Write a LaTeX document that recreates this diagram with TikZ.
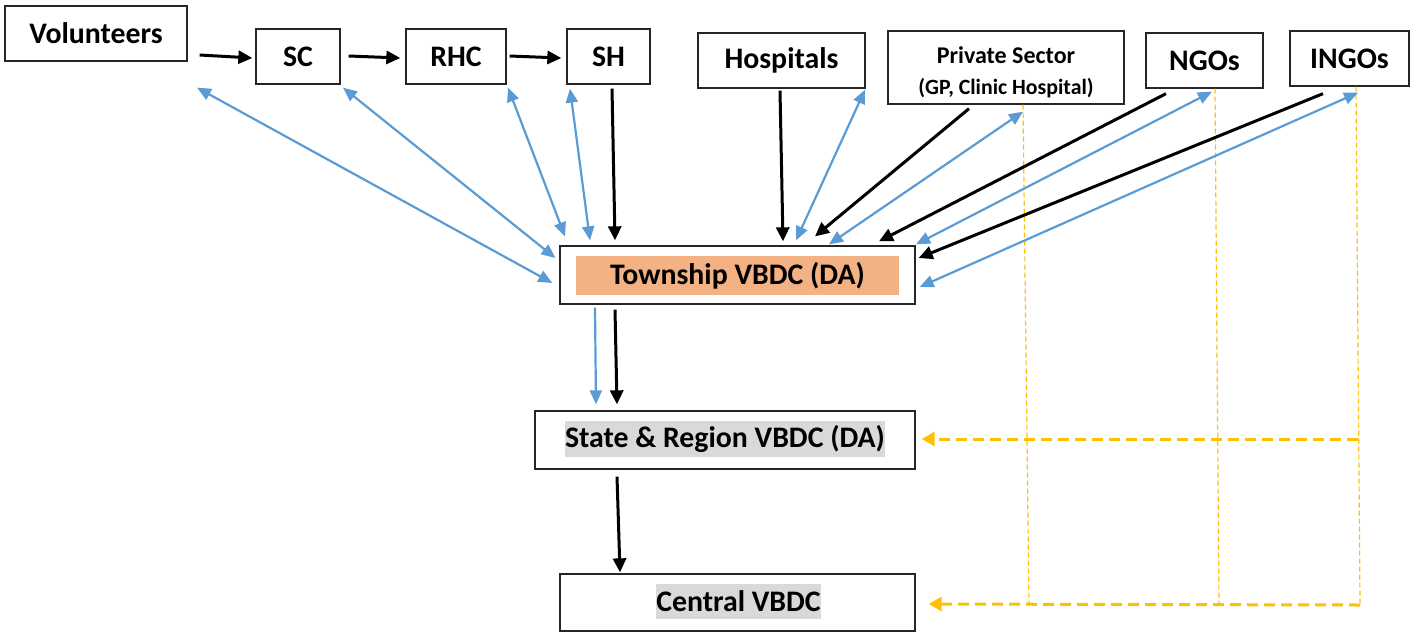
\documentclass[tikz,border=0pt]{standalone}
\usepackage{fontspec}
\setmainfont{Carlito}
\usetikzlibrary{arrows.meta,calc}
\definecolor{obblue}{HTML}{5B9BD5}
\definecolor{oborange}{HTML}{FFC000}
\definecolor{obsalmon}{HTML}{F4B183}
\definecolor{obgray}{HTML}{D9D9D9}
\begin{document}
\begin{tikzpicture}[x=1pt,y=-1pt,
  box/.style={draw=black!85,line width=1.3pt,fill=white,inner sep=0pt,font=\bfseries\fontsize{29.8}{32}\selectfont},
  lbl/.style={inner sep=0pt,font=\bfseries\fontsize{29.8}{32}\selectfont},
  blk/.style={draw=black,line width=3pt,-{Triangle[length=14pt,width=13pt]}},
  blu/.style={draw=obblue,line width=2.2pt,{Triangle[length=14pt,width=12pt]}-{Triangle[length=14pt,width=12pt]}},
  blus/.style={draw=obblue,line width=2.2pt,-{Triangle[length=14pt,width=12pt]}},
  thin/.style={draw=oborange,line width=1.2pt,dash pattern=on 5pt off 3pt},
  thick/.style={draw=oborange,line width=3pt,dash pattern=on 11pt off 6pt,-{Triangle[length=13pt,width=14pt]}}]
\useasboundingbox (0,0) rectangle (1413,632);

% top row
\node[box,minimum width=182pt,minimum height=55pt] (vol) at (96,33.5) {Volunteers};
\node[box,minimum width=84pt,minimum height=55pt] (sc) at (298,56.5) {SC};
\node[box,minimum width=100pt,minimum height=55pt] (rhc) at (456,56.5) {RHC};
\node[box,minimum width=83pt,minimum height=55pt] (sh) at (608.5,56.5) {SH};
\node[box,minimum width=167pt,minimum height=55pt] (hosp) at (781.5,60.5) {Hospitals};
\node[box,minimum width=236pt,minimum height=73pt] (priv) at (1006,67.5) {};
\node[lbl,align=center] (privl) at (1006,72)
  {{\fontsize{24}{26}\selectfont Private Sector}\\[-1pt]{\fontsize{21.8}{24}\selectfont (GP, Clinic Hospital)}};
\node[box,minimum width=117pt,minimum height=55pt] (ngo) at (1204.5,60.5) {NGOs};
\node[box,minimum width=119pt,minimum height=55pt] (ingo) at (1349.5,58.5) {INGOs};

% lower column
\node[box,minimum width=355pt,minimum height=58pt] (twp) at (737.5,275) {};
\node[lbl,fill=obsalmon,minimum width=323pt,minimum height=39pt] (twpl) at (737.5,275.5) {Township VBDC (DA)};
\node[box,minimum width=380pt,minimum height=58pt] (st) at (725,440) {};
\node[lbl,fill=obgray,minimum width=316pt,minimum height=36pt] (stl) at (725,439) {State \& Region VBDC (DA)};
\node[box,minimum width=355pt,minimum height=57pt] (cen) at (737.5,602.5) {};
\node[lbl,fill=obgray,minimum width=163pt,minimum height=35pt] (cenl) at (738.5,601.5) {Central VBDC};

% orange thin verticals
\coordinate (b1) at (1029,605);
\coordinate (b2) at (1219,605);
\coordinate (b3) at (1360,605);
\coordinate (m3) at (1358,439);
\draw[thin] ($(priv.south)+(17,0)$) -- (b1);
\draw[thin] ($(ngo.south)+(10.5,0)$) -- (b2);
\draw[thin] ($(ingo.south)+(6.5,0)$) -- (b3);
% orange thick arrows
\draw[thick] (m3) -- ($(st.east)+(6,-1)$);
\draw[thick] (b3) -- ($(cen.east)+(13,1.5)$);

% blue double arrows
\draw[blu] ($(vol.south)+(101,26)$) -- ($(twp.west)+(-7,8)$);
\draw[blu] ($(sc.south)+(45,3)$) -- ($(twp.west)+(-4,-17)$);
\draw[blu] ($(rhc.south)+(52,3)$) -- ($(twp.north)+(-172.5,-9)$);
\draw[blu] ($(sh.south)+(-38.5,4)$) -- ($(twp.north)+(-147.5,-5)$);
\draw[blu] ($(hosp.south)+(83.5,1)$) -- ($(twp.north)+(58.5,-5)$);
\draw[blu] ($(priv.south)+(17,7)$) -- ($(twp.north)+(91.5,-1)$);
\draw[blu] ($(ngo.south)+(7.5,3)$) -- ($(twp.north)+(178.5,-1)$);
\draw[blu] ($(ingo.south)+(8.5,6)$) -- ($(twp.east)+(4,12)$);
\draw[blus] ($(twp.south)+(-142.5,3)$) -- ($(st.north)+(-129,-6)$);

% black arrows
\draw[blk] ($(vol.east)+(12,21.5)$) -- ($(sc.west)+(-3,1.5)$);
\draw[blk] ($(sc.east)+(8,-0.5)$) -- ($(rhc.west)+(-5,1.5)$);
\draw[blk] ($(rhc.east)+(3,-0.5)$) -- ($(sh.west)+(-5,1.5)$);
\draw[blk] ($(sh.south)+(3.5,4)$) -- ($(twp.north)+(-122.5,-5)$);
\draw[blk] ($(hosp.south)+(-1.5,2)$) -- ($(twp.north)+(45.5,-4)$);
\draw[blk] ($(priv.south)+(-37,4)$) -- ($(twp.north)+(77.5,-9)$);
\draw[blk] ($(ngo.south)+(-38.5,5)$) -- ($(twp.north)+(141.5,-4)$);
\draw[blk] ($(ingo.south)+(-26.5,7)$) -- ($(twp.east)+(3,-17)$);
\draw[blk] ($(twp.south)+(-122.5,5)$) -- ($(st.north)+(-108,-6)$);
\draw[blk] ($(st.south)+(-108,7)$) -- ($(cen.north)+(-117.5,-1)$);
\end{tikzpicture}
\end{document}
